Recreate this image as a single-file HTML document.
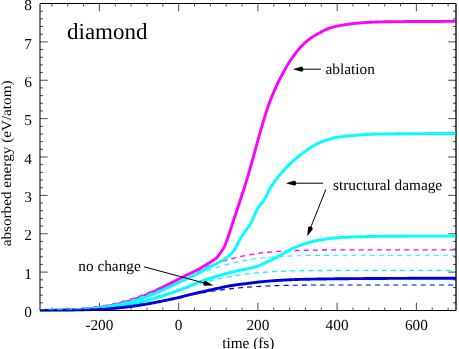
<!DOCTYPE html>
<html><head><meta charset="utf-8"><title>diamond</title>
<style>html,body{margin:0;padding:0;background:#fff;}body{width:459px;height:349px;overflow:hidden;position:relative;font-family:"Liberation Serif",serif;}</style></head>
<body>
<svg width="459" height="349" viewBox="0 0 459 349" style="position:absolute;left:0;top:0">
<rect width="100%" height="100%" fill="#fff"/>
<clipPath id="c"><rect x="40.0" y="3.5" width="416.0" height="307.9"/></clipPath>
<path d="M40.0 3.5 H456.0 V310.5 H40.0 Z" fill="none" stroke="#000" stroke-width="1"/>
<path d="M40.0 310.50 h7.8 M456.0 310.50 h-7.8 M40.0 302.82 h3.0 M456.0 302.82 h-3.0 M40.0 295.15 h3.0 M456.0 295.15 h-3.0 M40.0 287.48 h3.0 M456.0 287.48 h-3.0 M40.0 279.80 h3.0 M456.0 279.80 h-3.0 M40.0 272.12 h7.8 M456.0 272.12 h-7.8 M40.0 264.45 h3.0 M456.0 264.45 h-3.0 M40.0 256.77 h3.0 M456.0 256.77 h-3.0 M40.0 249.10 h3.0 M456.0 249.10 h-3.0 M40.0 241.43 h3.0 M456.0 241.43 h-3.0 M40.0 233.75 h7.8 M456.0 233.75 h-7.8 M40.0 226.07 h3.0 M456.0 226.07 h-3.0 M40.0 218.40 h3.0 M456.0 218.40 h-3.0 M40.0 210.72 h3.0 M456.0 210.72 h-3.0 M40.0 203.05 h3.0 M456.0 203.05 h-3.0 M40.0 195.38 h7.8 M456.0 195.38 h-7.8 M40.0 187.70 h3.0 M456.0 187.70 h-3.0 M40.0 180.02 h3.0 M456.0 180.02 h-3.0 M40.0 172.35 h3.0 M456.0 172.35 h-3.0 M40.0 164.67 h3.0 M456.0 164.67 h-3.0 M40.0 157.00 h7.8 M456.0 157.00 h-7.8 M40.0 149.32 h3.0 M456.0 149.32 h-3.0 M40.0 141.65 h3.0 M456.0 141.65 h-3.0 M40.0 133.97 h3.0 M456.0 133.97 h-3.0 M40.0 126.30 h3.0 M456.0 126.30 h-3.0 M40.0 118.62 h7.8 M456.0 118.62 h-7.8 M40.0 110.95 h3.0 M456.0 110.95 h-3.0 M40.0 103.27 h3.0 M456.0 103.27 h-3.0 M40.0 95.60 h3.0 M456.0 95.60 h-3.0 M40.0 87.92 h3.0 M456.0 87.92 h-3.0 M40.0 80.25 h7.8 M456.0 80.25 h-7.8 M40.0 72.57 h3.0 M456.0 72.57 h-3.0 M40.0 64.90 h3.0 M456.0 64.90 h-3.0 M40.0 57.22 h3.0 M456.0 57.22 h-3.0 M40.0 49.55 h3.0 M456.0 49.55 h-3.0 M40.0 41.88 h7.8 M456.0 41.88 h-7.8 M40.0 34.20 h3.0 M456.0 34.20 h-3.0 M40.0 26.52 h3.0 M456.0 26.52 h-3.0 M40.0 18.85 h3.0 M456.0 18.85 h-3.0 M40.0 11.17 h3.0 M456.0 11.17 h-3.0 M40.0 3.50 h7.8 M456.0 3.50 h-7.8 M51.89 310.5 v-3.0 M51.89 3.5 v3.0 M67.73 310.5 v-3.0 M67.73 3.5 v3.0 M83.58 310.5 v-3.0 M83.58 3.5 v3.0 M99.43 310.5 v-7.8 M99.43 3.5 v7.8 M115.28 310.5 v-3.0 M115.28 3.5 v3.0 M131.12 310.5 v-3.0 M131.12 3.5 v3.0 M146.97 310.5 v-3.0 M146.97 3.5 v3.0 M162.82 310.5 v-3.0 M162.82 3.5 v3.0 M178.67 310.5 v-7.8 M178.67 3.5 v7.8 M194.51 310.5 v-3.0 M194.51 3.5 v3.0 M210.36 310.5 v-3.0 M210.36 3.5 v3.0 M226.21 310.5 v-3.0 M226.21 3.5 v3.0 M242.06 310.5 v-3.0 M242.06 3.5 v3.0 M257.90 310.5 v-7.8 M257.90 3.5 v7.8 M273.75 310.5 v-3.0 M273.75 3.5 v3.0 M289.60 310.5 v-3.0 M289.60 3.5 v3.0 M305.45 310.5 v-3.0 M305.45 3.5 v3.0 M321.30 310.5 v-3.0 M321.30 3.5 v3.0 M337.14 310.5 v-7.8 M337.14 3.5 v7.8 M352.99 310.5 v-3.0 M352.99 3.5 v3.0 M368.84 310.5 v-3.0 M368.84 3.5 v3.0 M384.69 310.5 v-3.0 M384.69 3.5 v3.0 M400.53 310.5 v-3.0 M400.53 3.5 v3.0 M416.38 310.5 v-7.8 M416.38 3.5 v7.8 M432.23 310.5 v-3.0 M432.23 3.5 v3.0 M448.08 310.5 v-3.0 M448.08 3.5 v3.0" fill="none" stroke="#000" stroke-width="0.7"/>
<g clip-path="url(#c)" fill="none" stroke-linejoin="round">
<path d="M40.00 310.40 L41.00 310.39 L42.00 310.38 L43.00 310.37 L44.00 310.36 L45.00 310.35 L46.00 310.34 L47.00 310.33 L48.00 310.32 L49.00 310.31 L50.00 310.30 L51.00 310.28 L52.00 310.27 L53.00 310.25 L54.00 310.24 L55.00 310.22 L56.00 310.20 L57.00 310.18 L58.00 310.16 L59.00 310.14 L60.00 310.12 L61.00 310.10 L62.00 310.07 L63.00 310.04 L64.00 310.02 L65.00 309.99 L66.00 309.96 L67.00 309.93 L68.00 309.89 L69.00 309.86 L70.00 309.82 L71.00 309.78 L72.00 309.74 L73.00 309.69 L74.00 309.65 L75.00 309.60 L76.00 309.55 L77.00 309.50 L78.00 309.45 L79.00 309.39 L80.00 309.33 L81.00 309.27 L82.00 309.20 L83.00 309.13 L84.00 309.06 L85.00 308.99 L86.00 308.91 L87.00 308.83 L88.00 308.75 L89.00 308.66 L90.00 308.57 L91.00 308.47 L92.00 308.38 L93.00 308.27 L94.00 308.17 L95.00 308.06 L96.00 307.94 L97.00 307.82 L98.00 307.70 L99.00 307.57 L100.00 307.44 L101.00 307.30 L102.00 307.16 L103.00 307.01 L104.00 306.86 L105.00 306.70 L106.00 306.54 L107.00 306.38 L108.00 306.20 L109.00 306.02 L110.00 305.84 L111.00 305.65 L112.00 305.45 L113.00 305.25 L114.00 305.04 L115.00 304.83 L116.00 304.61 L117.00 304.38 L118.00 304.15 L119.00 303.91 L120.00 303.67 L121.00 303.42 L122.00 303.16 L123.00 302.90 L124.00 302.62 L125.00 302.35 L126.00 302.06 L127.00 301.77 L128.00 301.47 L129.00 301.17 L130.00 300.86 L131.00 300.54 L132.00 300.22 L133.00 299.89 L134.00 299.55 L135.00 299.20 L136.00 298.85 L137.00 298.50 L138.00 298.13 L139.00 297.76 L140.00 297.38 L141.00 297.00 L142.00 296.61 L143.00 296.22 L144.00 295.81 L145.00 295.40 L146.00 294.99 L147.00 294.57 L148.00 294.14 L149.00 293.71 L150.00 293.28 L151.00 292.83 L152.00 292.39 L153.00 291.93 L154.00 291.48 L155.00 291.01 L156.00 290.55 L157.00 290.08 L158.00 289.60 L159.00 289.12 L160.00 288.64 L161.00 288.15 L162.00 287.66 L163.00 287.16 L164.00 286.67 L165.00 286.17 L166.00 285.67 L167.00 285.16 L168.00 284.65 L169.00 284.14 L170.00 283.63 L171.00 283.12 L172.00 282.60 L173.00 282.09 L174.00 281.57 L175.00 281.06 L176.00 280.54 L177.00 280.02 L178.00 279.50 L179.00 278.99 L180.00 278.47 L181.00 277.96 L182.00 277.44 L183.00 276.93 L184.00 276.41 L185.00 275.90 L186.00 275.40 L187.00 274.91 L188.00 274.42 L189.00 273.93 L190.00 273.45 L191.00 272.97 L192.00 272.48 L193.00 272.00 L194.00 271.51 L195.00 271.01 L196.00 270.51 L197.00 270.00 L198.00 269.48 L199.00 268.95 L200.00 268.40 L201.00 267.83 L202.00 267.24 L203.00 266.63 L204.00 266.01 L205.00 265.38 L206.00 264.77 L207.00 264.16 L208.00 263.57 L209.00 263.00 L210.00 262.42 L211.00 261.82 L212.00 261.20 L213.00 260.54 L214.00 259.84 L215.00 259.11 L216.00 258.31 L217.00 257.40 L218.00 256.31 L219.00 254.99 L220.00 253.54 L221.00 252.05 L222.00 250.58 L223.00 249.07 L224.00 247.37 L225.00 245.29 L226.00 242.74 L227.00 240.00 L228.00 237.20 L229.00 234.26 L230.00 231.23 L231.00 228.15 L232.00 225.06 L233.00 222.00 L234.00 218.98 L235.00 215.98 L236.00 212.98 L237.00 209.99 L238.00 207.01 L239.00 204.01 L240.00 201.00 L241.00 197.98 L242.00 194.93 L243.00 191.85 L244.00 188.74 L245.00 185.59 L246.00 182.39 L247.00 179.14 L248.00 175.84 L249.00 172.44 L250.00 168.96 L251.00 165.41 L252.00 161.82 L253.00 158.18 L254.00 154.52 L255.00 150.86 L256.00 147.19 L257.00 143.55 L258.00 139.94 L259.00 136.38 L260.00 132.88 L261.00 129.43 L262.00 125.97 L263.00 122.51 L264.00 119.11 L265.00 115.80 L266.00 112.62 L267.00 109.62 L268.00 106.76 L269.00 104.01 L270.00 101.36 L271.00 98.80 L272.00 96.30 L273.00 93.86 L274.00 91.48 L275.00 89.16 L276.00 86.90 L277.00 84.72 L278.00 82.61 L279.00 80.59 L280.00 78.65 L281.00 76.78 L282.00 74.95 L283.00 73.14 L284.00 71.33 L285.00 69.49 L286.00 67.65 L287.00 65.88 L288.00 64.21 L289.00 62.61 L290.00 61.06 L291.00 59.56 L292.00 58.12 L293.00 56.73 L294.00 55.36 L295.00 54.02 L296.00 52.71 L297.00 51.43 L298.00 50.18 L299.00 48.98 L300.00 47.83 L301.00 46.73 L302.00 45.69 L303.00 44.69 L304.00 43.72 L305.00 42.78 L306.00 41.88 L307.00 41.01 L308.00 40.18 L309.00 39.38 L310.00 38.63 L311.00 37.92 L312.00 37.25 L313.00 36.61 L314.00 36.00 L315.00 35.42 L316.00 34.85 L317.00 34.30 L318.00 33.75 L319.00 33.22 L320.00 32.68 L321.00 32.13 L322.00 31.58 L323.00 31.05 L324.00 30.52 L325.00 30.02 L326.00 29.55 L327.00 29.11 L328.00 28.71 L329.00 28.35 L330.00 28.02 L331.00 27.70 L332.00 27.40 L333.00 27.12 L334.00 26.85 L335.00 26.60 L336.00 26.36 L337.00 26.14 L338.00 25.94 L339.00 25.74 L340.00 25.56 L341.00 25.39 L342.00 25.23 L343.00 25.07 L344.00 24.92 L345.00 24.76 L346.00 24.61 L347.00 24.46 L348.00 24.31 L349.00 24.17 L350.00 24.02 L351.00 23.88 L352.00 23.75 L353.00 23.62 L354.00 23.50 L355.00 23.40 L356.00 23.30 L357.00 23.21 L358.00 23.12 L359.00 23.03 L360.00 22.95 L361.00 22.86 L362.00 22.79 L363.00 22.71 L364.00 22.64 L365.00 22.57 L366.00 22.51 L367.00 22.45 L368.00 22.40 L369.00 22.35 L370.00 22.30 L371.00 22.26 L372.00 22.21 L373.00 22.17 L374.00 22.13 L375.00 22.09 L376.00 22.06 L377.00 22.02 L378.00 21.99 L379.00 21.95 L380.00 21.92 L381.00 21.89 L382.00 21.86 L383.00 21.83 L384.00 21.81 L385.00 21.79 L386.00 21.76 L387.00 21.74 L388.00 21.73 L389.00 21.71 L390.00 21.70 L391.00 21.69 L392.00 21.68 L393.00 21.67 L394.00 21.66 L395.00 21.65 L396.00 21.64 L397.00 21.63 L398.00 21.62 L399.00 21.61 L400.00 21.61 L401.00 21.60 L402.00 21.59 L403.00 21.59 L404.00 21.58 L405.00 21.57 L406.00 21.57 L407.00 21.56 L408.00 21.55 L409.00 21.55 L410.00 21.54 L411.00 21.54 L412.00 21.53 L413.00 21.53 L414.00 21.53 L415.00 21.52 L416.00 21.52 L417.00 21.51 L418.00 21.51 L419.00 21.50 L420.00 21.50 L421.00 21.50 L422.00 21.49 L423.00 21.49 L424.00 21.48 L425.00 21.48 L426.00 21.48 L427.00 21.47 L428.00 21.47 L429.00 21.47 L430.00 21.46 L431.00 21.46 L432.00 21.45 L433.00 21.45 L434.00 21.45 L435.00 21.44 L436.00 21.44 L437.00 21.44 L438.00 21.44 L439.00 21.43 L440.00 21.43 L441.00 21.43 L442.00 21.42 L443.00 21.42 L444.00 21.42 L445.00 21.42 L446.00 21.41 L447.00 21.41 L448.00 21.41 L449.00 21.41 L450.00 21.41 L451.00 21.41 L452.00 21.40 L453.00 21.40 L454.00 21.40 L455.00 21.40 L456.00 21.40" stroke="#ff00ff" stroke-width="2.9" />
<path d="M40.00 310.25 L42.00 310.22 L44.00 310.18 L46.00 310.14 L48.00 310.10 L50.00 310.06 L52.00 310.01 L54.00 309.96 L56.00 309.90 L58.00 309.83 L60.00 309.76 L62.00 309.68 L64.00 309.60 L66.00 309.51 L68.00 309.41 L70.00 309.30 L72.00 309.18 L74.00 309.06 L76.00 308.92 L78.00 308.77 L80.00 308.62 L82.00 308.45 L84.00 308.26 L86.00 308.07 L88.00 307.86 L90.00 307.64 L92.00 307.40 L94.00 307.15 L96.00 306.88 L98.00 306.59 L100.00 306.29 L102.00 305.97 L104.00 305.63 L106.00 305.27 L108.00 304.89 L110.00 304.50 L112.00 304.08 L114.00 303.64 L116.00 303.18 L118.00 302.70 L120.00 302.20 L122.00 301.68 L124.00 301.13 L126.00 300.57 L128.00 299.98 L130.00 299.37 L132.00 298.74 L134.00 298.08 L136.00 297.41 L138.00 296.72 L140.00 296.00 L142.00 295.27 L144.00 294.51 L146.00 293.74 L148.00 292.95 L150.00 292.14 L152.00 291.32 L154.00 290.48 L156.00 289.63 L158.00 288.76 L160.00 287.88 L162.00 286.99 L164.00 286.09 L166.00 285.18 L168.00 284.27 L170.00 283.35 L172.00 282.42 L174.00 281.49 L176.00 280.56 L178.00 279.63 L180.00 278.70 L182.00 277.77 L184.00 276.84 L186.00 275.92 L188.00 275.01 L190.00 274.10 L192.00 273.20 L194.00 272.31 L196.00 271.44 L198.00 270.57 L200.00 269.72 L202.00 268.89 L204.00 268.07 L206.00 267.26 L208.00 266.47 L210.00 265.71 L212.00 264.96 L214.00 264.22 L216.00 263.51 L218.00 262.82 L220.00 262.15 L222.00 261.50 L224.00 260.88 L226.00 260.27 L228.00 259.69 L230.00 259.13 L232.00 258.59 L234.00 258.07 L236.00 257.57 L238.00 257.09 L240.00 256.64 L242.00 256.21 L244.00 255.79 L246.00 255.40 L248.00 255.03 L250.00 254.67 L252.00 254.34 L254.00 254.02 L256.00 253.72 L258.00 253.44 L260.00 253.17 L262.00 252.92 L264.00 252.69 L266.00 252.47 L268.00 252.26 L270.00 252.07 L272.00 251.89 L274.00 251.72 L276.00 251.56 L278.00 251.42 L280.00 251.29 L282.00 251.16 L284.00 251.05 L286.00 250.94 L288.00 250.84 L290.00 250.75 L292.00 250.67 L294.00 250.59 L296.00 250.52 L298.00 250.46 L300.00 250.40 L302.00 250.35 L304.00 250.30 L306.00 250.26 L308.00 250.22 L310.00 250.18 L312.00 250.15 L314.00 250.12 L316.00 250.09 L318.00 250.07 L320.00 250.04 L322.00 250.02 L324.00 250.01 L326.00 249.99 L328.00 249.98 L330.00 249.96 L332.00 249.95 L334.00 249.94 L336.00 249.93 L338.00 249.93 L340.00 249.92 L342.00 249.91 L344.00 249.91 L346.00 249.90 L348.00 249.90 L350.00 249.89 L352.00 249.89 L354.00 249.89 L356.00 249.88 L358.00 249.88 L360.00 249.88 L362.00 249.88 L364.00 249.88 L366.00 249.88 L368.00 249.87 L370.00 249.87 L372.00 249.87 L374.00 249.87 L376.00 249.87 L378.00 249.87 L380.00 249.87 L382.00 249.87 L384.00 249.87 L386.00 249.87 L388.00 249.87 L390.00 249.87 L392.00 249.87 L394.00 249.87 L396.00 249.87 L398.00 249.87 L400.00 249.87 L402.00 249.87 L404.00 249.87 L406.00 249.87 L408.00 249.87 L410.00 249.87 L412.00 249.87 L414.00 249.87 L416.00 249.87 L418.00 249.87 L420.00 249.87 L422.00 249.87 L424.00 249.87 L426.00 249.87 L428.00 249.87 L430.00 249.87 L432.00 249.87 L434.00 249.87 L436.00 249.87 L438.00 249.87 L440.00 249.87 L442.00 249.87 L444.00 249.87 L446.00 249.87 L448.00 249.87 L450.00 249.87 L452.00 249.87 L454.00 249.87 L456.00 249.87" stroke="#ff00ff" stroke-width="1.3" stroke-dasharray="5 4.14" stroke-dashoffset="0.8"/>
<path d="M40.00 310.41 L41.00 310.41 L42.00 310.40 L43.00 310.39 L44.00 310.39 L45.00 310.38 L46.00 310.37 L47.00 310.36 L48.00 310.35 L49.00 310.34 L50.00 310.33 L51.00 310.32 L52.00 310.31 L53.00 310.29 L54.00 310.28 L55.00 310.27 L56.00 310.25 L57.00 310.23 L58.00 310.22 L59.00 310.20 L60.00 310.18 L61.00 310.16 L62.00 310.14 L63.00 310.12 L64.00 310.09 L65.00 310.07 L66.00 310.04 L67.00 310.02 L68.00 309.99 L69.00 309.96 L70.00 309.93 L71.00 309.89 L72.00 309.86 L73.00 309.82 L74.00 309.78 L75.00 309.74 L76.00 309.70 L77.00 309.65 L78.00 309.61 L79.00 309.56 L80.00 309.51 L81.00 309.45 L82.00 309.40 L83.00 309.34 L84.00 309.28 L85.00 309.22 L86.00 309.15 L87.00 309.08 L88.00 309.01 L89.00 308.93 L90.00 308.85 L91.00 308.77 L92.00 308.69 L93.00 308.60 L94.00 308.51 L95.00 308.41 L96.00 308.31 L97.00 308.21 L98.00 308.10 L99.00 307.99 L100.00 307.88 L101.00 307.76 L102.00 307.64 L103.00 307.51 L104.00 307.37 L105.00 307.24 L106.00 307.10 L107.00 306.95 L108.00 306.80 L109.00 306.64 L110.00 306.48 L111.00 306.32 L112.00 306.15 L113.00 305.97 L114.00 305.79 L115.00 305.60 L116.00 305.41 L117.00 305.21 L118.00 305.01 L119.00 304.80 L120.00 304.58 L121.00 304.36 L122.00 304.13 L123.00 303.90 L124.00 303.66 L125.00 303.42 L126.00 303.17 L127.00 302.91 L128.00 302.65 L129.00 302.38 L130.00 302.11 L131.00 301.82 L132.00 301.54 L133.00 301.24 L134.00 300.94 L135.00 300.64 L136.00 300.33 L137.00 300.01 L138.00 299.69 L139.00 299.36 L140.00 299.02 L141.00 298.68 L142.00 298.33 L143.00 297.98 L144.00 297.62 L145.00 297.26 L146.00 296.89 L147.00 296.51 L148.00 296.13 L149.00 295.74 L150.00 295.35 L151.00 294.96 L152.00 294.56 L153.00 294.15 L154.00 293.74 L155.00 293.32 L156.00 292.90 L157.00 292.48 L158.00 292.05 L159.00 291.62 L160.00 291.18 L161.00 290.75 L162.00 290.30 L163.00 289.86 L164.00 289.41 L165.00 288.95 L166.00 288.50 L167.00 288.04 L168.00 287.58 L169.00 287.12 L170.00 286.66 L171.00 286.19 L172.00 285.73 L173.00 285.26 L174.00 284.79 L175.00 284.32 L176.00 283.85 L177.00 283.38 L178.00 282.90 L179.00 282.43 L180.00 281.96 L181.00 281.49 L182.00 281.03 L183.00 280.56 L184.00 280.09 L185.00 279.62 L186.00 279.14 L187.00 278.67 L188.00 278.20 L189.00 277.73 L190.00 277.26 L191.00 276.79 L192.00 276.32 L193.00 275.84 L194.00 275.36 L195.00 274.87 L196.00 274.37 L197.00 273.87 L198.00 273.36 L199.00 272.83 L200.00 272.30 L201.00 271.74 L202.00 271.15 L203.00 270.54 L204.00 269.92 L205.00 269.31 L206.00 268.73 L207.00 268.19 L208.00 267.66 L209.00 267.16 L210.00 266.67 L211.00 266.18 L212.00 265.69 L213.00 265.20 L214.00 264.70 L215.00 264.22 L216.00 263.73 L217.00 263.24 L218.00 262.75 L219.00 262.23 L220.00 261.69 L221.00 261.14 L222.00 260.58 L223.00 260.00 L224.00 259.40 L225.00 258.76 L226.00 258.08 L227.00 257.36 L228.00 256.60 L229.00 255.78 L230.00 254.89 L231.00 253.93 L232.00 252.87 L233.00 251.67 L234.00 250.32 L235.00 248.85 L236.00 247.22 L237.00 245.28 L238.00 243.18 L239.00 241.12 L240.00 239.31 L241.00 237.65 L242.00 236.10 L243.00 234.61 L244.00 233.18 L245.00 231.78 L246.00 230.38 L247.00 228.97 L248.00 227.52 L249.00 226.01 L250.00 224.42 L251.00 222.71 L252.00 220.85 L253.00 218.69 L254.00 216.36 L255.00 213.98 L256.00 211.67 L257.00 209.57 L258.00 207.80 L259.00 206.38 L260.00 205.17 L261.00 204.06 L262.00 202.91 L263.00 201.63 L264.00 200.10 L265.00 198.34 L266.00 196.42 L267.00 194.40 L268.00 192.35 L269.00 190.34 L270.00 188.44 L271.00 186.72 L272.00 185.18 L273.00 183.71 L274.00 182.30 L275.00 180.95 L276.00 179.65 L277.00 178.38 L278.00 177.15 L279.00 175.94 L280.00 174.75 L281.00 173.57 L282.00 172.41 L283.00 171.27 L284.00 170.15 L285.00 169.04 L286.00 167.96 L287.00 166.90 L288.00 165.87 L289.00 164.86 L290.00 163.87 L291.00 162.91 L292.00 161.97 L293.00 161.07 L294.00 160.19 L295.00 159.33 L296.00 158.49 L297.00 157.67 L298.00 156.86 L299.00 156.08 L300.00 155.30 L301.00 154.54 L302.00 153.79 L303.00 153.04 L304.00 152.30 L305.00 151.57 L306.00 150.83 L307.00 150.09 L308.00 149.35 L309.00 148.62 L310.00 147.91 L311.00 147.24 L312.00 146.60 L313.00 146.01 L314.00 145.47 L315.00 144.94 L316.00 144.42 L317.00 143.92 L318.00 143.44 L319.00 142.97 L320.00 142.52 L321.00 142.09 L322.00 141.68 L323.00 141.29 L324.00 140.91 L325.00 140.56 L326.00 140.23 L327.00 139.91 L328.00 139.61 L329.00 139.31 L330.00 139.03 L331.00 138.75 L332.00 138.48 L333.00 138.23 L334.00 137.99 L335.00 137.76 L336.00 137.54 L337.00 137.34 L338.00 137.16 L339.00 136.99 L340.00 136.84 L341.00 136.70 L342.00 136.57 L343.00 136.45 L344.00 136.33 L345.00 136.22 L346.00 136.12 L347.00 136.02 L348.00 135.93 L349.00 135.83 L350.00 135.74 L351.00 135.66 L352.00 135.57 L353.00 135.48 L354.00 135.40 L355.00 135.31 L356.00 135.23 L357.00 135.14 L358.00 135.06 L359.00 134.98 L360.00 134.91 L361.00 134.84 L362.00 134.77 L363.00 134.71 L364.00 134.65 L365.00 134.60 L366.00 134.55 L367.00 134.51 L368.00 134.46 L369.00 134.42 L370.00 134.38 L371.00 134.34 L372.00 134.30 L373.00 134.26 L374.00 134.23 L375.00 134.20 L376.00 134.17 L377.00 134.14 L378.00 134.12 L379.00 134.10 L380.00 134.08 L381.00 134.06 L382.00 134.04 L383.00 134.02 L384.00 134.01 L385.00 133.99 L386.00 133.97 L387.00 133.95 L388.00 133.94 L389.00 133.92 L390.00 133.90 L391.00 133.89 L392.00 133.87 L393.00 133.86 L394.00 133.84 L395.00 133.83 L396.00 133.82 L397.00 133.80 L398.00 133.79 L399.00 133.78 L400.00 133.77 L401.00 133.75 L402.00 133.74 L403.00 133.73 L404.00 133.72 L405.00 133.71 L406.00 133.70 L407.00 133.69 L408.00 133.68 L409.00 133.67 L410.00 133.66 L411.00 133.66 L412.00 133.65 L413.00 133.64 L414.00 133.63 L415.00 133.63 L416.00 133.62 L417.00 133.62 L418.00 133.61 L419.00 133.60 L420.00 133.60 L421.00 133.60 L422.00 133.59 L423.00 133.59 L424.00 133.58 L425.00 133.58 L426.00 133.57 L427.00 133.57 L428.00 133.57 L429.00 133.56 L430.00 133.56 L431.00 133.55 L432.00 133.55 L433.00 133.55 L434.00 133.54 L435.00 133.54 L436.00 133.54 L437.00 133.53 L438.00 133.53 L439.00 133.53 L440.00 133.52 L441.00 133.52 L442.00 133.52 L443.00 133.52 L444.00 133.51 L445.00 133.51 L446.00 133.51 L447.00 133.51 L448.00 133.51 L449.00 133.50 L450.00 133.50 L451.00 133.50 L452.00 133.50 L453.00 133.50 L454.00 133.50 L455.00 133.50 L456.00 133.50" stroke="#00ffff" stroke-width="2.9" />
<path d="M40.00 310.44 L41.00 310.44 L42.00 310.43 L43.00 310.43 L44.00 310.42 L45.00 310.42 L46.00 310.41 L47.00 310.41 L48.00 310.40 L49.00 310.39 L50.00 310.38 L51.00 310.38 L52.00 310.37 L53.00 310.36 L54.00 310.35 L55.00 310.34 L56.00 310.33 L57.00 310.32 L58.00 310.31 L59.00 310.29 L60.00 310.28 L61.00 310.27 L62.00 310.25 L63.00 310.24 L64.00 310.22 L65.00 310.20 L66.00 310.19 L67.00 310.17 L68.00 310.15 L69.00 310.13 L70.00 310.10 L71.00 310.08 L72.00 310.06 L73.00 310.03 L74.00 310.00 L75.00 309.98 L76.00 309.95 L77.00 309.92 L78.00 309.88 L79.00 309.85 L80.00 309.81 L81.00 309.78 L82.00 309.74 L83.00 309.70 L84.00 309.65 L85.00 309.61 L86.00 309.56 L87.00 309.51 L88.00 309.46 L89.00 309.41 L90.00 309.36 L91.00 309.30 L92.00 309.24 L93.00 309.18 L94.00 309.11 L95.00 309.05 L96.00 308.98 L97.00 308.90 L98.00 308.83 L99.00 308.75 L100.00 308.67 L101.00 308.59 L102.00 308.50 L103.00 308.41 L104.00 308.31 L105.00 308.22 L106.00 308.12 L107.00 308.02 L108.00 307.91 L109.00 307.80 L110.00 307.68 L111.00 307.57 L112.00 307.44 L113.00 307.32 L114.00 307.19 L115.00 307.06 L116.00 306.92 L117.00 306.78 L118.00 306.63 L119.00 306.48 L120.00 306.33 L121.00 306.17 L122.00 306.01 L123.00 305.85 L124.00 305.68 L125.00 305.50 L126.00 305.32 L127.00 305.14 L128.00 304.95 L129.00 304.76 L130.00 304.56 L131.00 304.36 L132.00 304.15 L133.00 303.94 L134.00 303.73 L135.00 303.51 L136.00 303.28 L137.00 303.06 L138.00 302.82 L139.00 302.59 L140.00 302.34 L141.00 302.10 L142.00 301.85 L143.00 301.59 L144.00 301.33 L145.00 301.07 L146.00 300.80 L147.00 300.53 L148.00 300.26 L149.00 299.98 L150.00 299.69 L151.00 299.41 L152.00 299.11 L153.00 298.82 L154.00 298.52 L155.00 298.22 L156.00 297.91 L157.00 297.61 L158.00 297.29 L159.00 296.98 L160.00 296.66 L161.00 296.34 L162.00 296.02 L163.00 295.69 L164.00 295.37 L165.00 295.04 L166.00 294.70 L167.00 294.37 L168.00 294.03 L169.00 293.69 L170.00 293.36 L171.00 293.02 L172.00 292.67 L173.00 292.33 L174.00 291.99 L175.00 291.64 L176.00 291.29 L177.00 290.94 L178.00 290.59 L179.00 290.24 L180.00 289.88 L181.00 289.52 L182.00 289.16 L183.00 288.78 L184.00 288.40 L185.00 288.01 L186.00 287.60 L187.00 287.18 L188.00 286.75 L189.00 286.32 L190.00 285.89 L191.00 285.46 L192.00 285.03 L193.00 284.61 L194.00 284.20 L195.00 283.79 L196.00 283.39 L197.00 282.98 L198.00 282.58 L199.00 282.18 L200.00 281.78 L201.00 281.40 L202.00 281.02 L203.00 280.65 L204.00 280.30 L205.00 279.96 L206.00 279.63 L207.00 279.31 L208.00 279.00 L209.00 278.70 L210.00 278.40 L211.00 278.10 L212.00 277.80 L213.00 277.50 L214.00 277.20 L215.00 276.89 L216.00 276.59 L217.00 276.28 L218.00 275.97 L219.00 275.67 L220.00 275.36 L221.00 275.07 L222.00 274.77 L223.00 274.48 L224.00 274.20 L225.00 273.92 L226.00 273.65 L227.00 273.38 L228.00 273.11 L229.00 272.84 L230.00 272.58 L231.00 272.33 L232.00 272.08 L233.00 271.84 L234.00 271.60 L235.00 271.37 L236.00 271.16 L237.00 270.95 L238.00 270.74 L239.00 270.54 L240.00 270.34 L241.00 270.14 L242.00 269.93 L243.00 269.72 L244.00 269.50 L245.00 269.28 L246.00 269.05 L247.00 268.82 L248.00 268.59 L249.00 268.35 L250.00 268.11 L251.00 267.86 L252.00 267.60 L253.00 267.34 L254.00 267.08 L255.00 266.82 L256.00 266.54 L257.00 266.25 L258.00 265.94 L259.00 265.60 L260.00 265.22 L261.00 264.79 L262.00 264.33 L263.00 263.85 L264.00 263.36 L265.00 262.86 L266.00 262.39 L267.00 261.93 L268.00 261.48 L269.00 261.04 L270.00 260.59 L271.00 260.14 L272.00 259.68 L273.00 259.20 L274.00 258.70 L275.00 258.19 L276.00 257.66 L277.00 257.13 L278.00 256.58 L279.00 256.03 L280.00 255.48 L281.00 254.90 L282.00 254.32 L283.00 253.72 L284.00 253.14 L285.00 252.56 L286.00 252.00 L287.00 251.45 L288.00 250.91 L289.00 250.38 L290.00 249.86 L291.00 249.35 L292.00 248.87 L293.00 248.41 L294.00 247.97 L295.00 247.53 L296.00 247.10 L297.00 246.68 L298.00 246.27 L299.00 245.87 L300.00 245.48 L301.00 245.10 L302.00 244.73 L303.00 244.38 L304.00 244.04 L305.00 243.71 L306.00 243.40 L307.00 243.10 L308.00 242.80 L309.00 242.52 L310.00 242.23 L311.00 241.96 L312.00 241.70 L313.00 241.44 L314.00 241.19 L315.00 240.96 L316.00 240.73 L317.00 240.52 L318.00 240.32 L319.00 240.14 L320.00 239.96 L321.00 239.79 L322.00 239.63 L323.00 239.47 L324.00 239.32 L325.00 239.18 L326.00 239.04 L327.00 238.91 L328.00 238.78 L329.00 238.66 L330.00 238.54 L331.00 238.43 L332.00 238.33 L333.00 238.23 L334.00 238.13 L335.00 238.04 L336.00 237.95 L337.00 237.86 L338.00 237.78 L339.00 237.70 L340.00 237.62 L341.00 237.55 L342.00 237.48 L343.00 237.42 L344.00 237.36 L345.00 237.30 L346.00 237.25 L347.00 237.20 L348.00 237.14 L349.00 237.10 L350.00 237.05 L351.00 237.00 L352.00 236.96 L353.00 236.92 L354.00 236.88 L355.00 236.84 L356.00 236.81 L357.00 236.78 L358.00 236.75 L359.00 236.72 L360.00 236.70 L361.00 236.68 L362.00 236.66 L363.00 236.64 L364.00 236.62 L365.00 236.60 L366.00 236.58 L367.00 236.56 L368.00 236.55 L369.00 236.53 L370.00 236.51 L371.00 236.49 L372.00 236.48 L373.00 236.46 L374.00 236.45 L375.00 236.43 L376.00 236.42 L377.00 236.40 L378.00 236.39 L379.00 236.38 L380.00 236.36 L381.00 236.35 L382.00 236.34 L383.00 236.33 L384.00 236.32 L385.00 236.30 L386.00 236.29 L387.00 236.28 L388.00 236.28 L389.00 236.27 L390.00 236.26 L391.00 236.25 L392.00 236.24 L393.00 236.24 L394.00 236.23 L395.00 236.22 L396.00 236.22 L397.00 236.21 L398.00 236.21 L399.00 236.20 L400.00 236.20 L401.00 236.20 L402.00 236.19 L403.00 236.19 L404.00 236.19 L405.00 236.18 L406.00 236.18 L407.00 236.18 L408.00 236.18 L409.00 236.17 L410.00 236.17 L411.00 236.17 L412.00 236.16 L413.00 236.16 L414.00 236.16 L415.00 236.16 L416.00 236.15 L417.00 236.15 L418.00 236.15 L419.00 236.15 L420.00 236.14 L421.00 236.14 L422.00 236.14 L423.00 236.14 L424.00 236.14 L425.00 236.13 L426.00 236.13 L427.00 236.13 L428.00 236.13 L429.00 236.13 L430.00 236.12 L431.00 236.12 L432.00 236.12 L433.00 236.12 L434.00 236.12 L435.00 236.12 L436.00 236.11 L437.00 236.11 L438.00 236.11 L439.00 236.11 L440.00 236.11 L441.00 236.11 L442.00 236.11 L443.00 236.11 L444.00 236.11 L445.00 236.10 L446.00 236.10 L447.00 236.10 L448.00 236.10 L449.00 236.10 L450.00 236.10 L451.00 236.10 L452.00 236.10 L453.00 236.10 L454.00 236.10 L455.00 236.10 L456.00 236.10" stroke="#00ffff" stroke-width="2.9" />
<path d="M40.00 310.46 L41.00 310.46 L42.00 310.45 L43.00 310.45 L44.00 310.45 L45.00 310.44 L46.00 310.44 L47.00 310.43 L48.00 310.43 L49.00 310.43 L50.00 310.42 L51.00 310.42 L52.00 310.41 L53.00 310.40 L54.00 310.40 L55.00 310.39 L56.00 310.38 L57.00 310.38 L58.00 310.37 L59.00 310.36 L60.00 310.35 L61.00 310.34 L62.00 310.33 L63.00 310.32 L64.00 310.31 L65.00 310.30 L66.00 310.29 L67.00 310.27 L68.00 310.26 L69.00 310.25 L70.00 310.23 L71.00 310.22 L72.00 310.20 L73.00 310.18 L74.00 310.16 L75.00 310.15 L76.00 310.13 L77.00 310.10 L78.00 310.08 L79.00 310.06 L80.00 310.04 L81.00 310.01 L82.00 309.99 L83.00 309.96 L84.00 309.93 L85.00 309.90 L86.00 309.87 L87.00 309.84 L88.00 309.80 L89.00 309.77 L90.00 309.73 L91.00 309.69 L92.00 309.65 L93.00 309.61 L94.00 309.57 L95.00 309.53 L96.00 309.48 L97.00 309.43 L98.00 309.38 L99.00 309.33 L100.00 309.28 L101.00 309.22 L102.00 309.16 L103.00 309.10 L104.00 309.04 L105.00 308.98 L106.00 308.91 L107.00 308.84 L108.00 308.77 L109.00 308.70 L110.00 308.63 L111.00 308.55 L112.00 308.47 L113.00 308.39 L114.00 308.30 L115.00 308.22 L116.00 308.13 L117.00 308.04 L118.00 307.94 L119.00 307.84 L120.00 307.74 L121.00 307.64 L122.00 307.54 L123.00 307.43 L124.00 307.32 L125.00 307.20 L126.00 307.09 L127.00 306.97 L128.00 306.84 L129.00 306.72 L130.00 306.59 L131.00 306.46 L132.00 306.33 L133.00 306.19 L134.00 306.05 L135.00 305.91 L136.00 305.77 L137.00 305.62 L138.00 305.47 L139.00 305.32 L140.00 305.16 L141.00 305.00 L142.00 304.84 L143.00 304.68 L144.00 304.51 L145.00 304.34 L146.00 304.17 L147.00 304.00 L148.00 303.82 L149.00 303.64 L150.00 303.46 L151.00 303.28 L152.00 303.09 L153.00 302.90 L154.00 302.71 L155.00 302.52 L156.00 302.32 L157.00 302.13 L158.00 301.93 L159.00 301.73 L160.00 301.53 L161.00 301.32 L162.00 301.12 L163.00 300.91 L164.00 300.70 L165.00 300.49 L166.00 300.28 L167.00 300.07 L168.00 299.86 L169.00 299.64 L170.00 299.43 L171.00 299.22 L172.00 299.00 L173.00 298.78 L174.00 298.56 L175.00 298.35 L176.00 298.13 L177.00 297.92 L178.00 297.71 L179.00 297.49 L180.00 297.26 L181.00 297.01 L182.00 296.76 L183.00 296.49 L184.00 296.22 L185.00 295.94 L186.00 295.66 L187.00 295.39 L188.00 295.12 L189.00 294.85 L190.00 294.60 L191.00 294.35 L192.00 294.11 L193.00 293.87 L194.00 293.64 L195.00 293.41 L196.00 293.18 L197.00 292.95 L198.00 292.72 L199.00 292.50 L200.00 292.27 L201.00 292.05 L202.00 291.82 L203.00 291.60 L204.00 291.37 L205.00 291.15 L206.00 290.93 L207.00 290.70 L208.00 290.48 L209.00 290.26 L210.00 290.04 L211.00 289.82 L212.00 289.60 L213.00 289.38 L214.00 289.16 L215.00 288.95 L216.00 288.73 L217.00 288.51 L218.00 288.30 L219.00 288.08 L220.00 287.86 L221.00 287.64 L222.00 287.42 L223.00 287.20 L224.00 286.98 L225.00 286.76 L226.00 286.55 L227.00 286.35 L228.00 286.16 L229.00 285.97 L230.00 285.80 L231.00 285.64 L232.00 285.48 L233.00 285.33 L234.00 285.19 L235.00 285.05 L236.00 284.91 L237.00 284.78 L238.00 284.65 L239.00 284.52 L240.00 284.39 L241.00 284.26 L242.00 284.13 L243.00 284.00 L244.00 283.87 L245.00 283.74 L246.00 283.61 L247.00 283.48 L248.00 283.35 L249.00 283.22 L250.00 283.10 L251.00 282.97 L252.00 282.85 L253.00 282.72 L254.00 282.59 L255.00 282.47 L256.00 282.34 L257.00 282.23 L258.00 282.11 L259.00 282.00 L260.00 281.90 L261.00 281.80 L262.00 281.71 L263.00 281.61 L264.00 281.52 L265.00 281.43 L266.00 281.34 L267.00 281.25 L268.00 281.16 L269.00 281.08 L270.00 281.00 L271.00 280.92 L272.00 280.84 L273.00 280.76 L274.00 280.69 L275.00 280.62 L276.00 280.55 L277.00 280.48 L278.00 280.42 L279.00 280.36 L280.00 280.30 L281.00 280.24 L282.00 280.19 L283.00 280.13 L284.00 280.07 L285.00 280.02 L286.00 279.96 L287.00 279.91 L288.00 279.86 L289.00 279.81 L290.00 279.76 L291.00 279.72 L292.00 279.67 L293.00 279.63 L294.00 279.59 L295.00 279.55 L296.00 279.51 L297.00 279.48 L298.00 279.45 L299.00 279.42 L300.00 279.40 L301.00 279.38 L302.00 279.36 L303.00 279.33 L304.00 279.31 L305.00 279.29 L306.00 279.27 L307.00 279.25 L308.00 279.23 L309.00 279.21 L310.00 279.19 L311.00 279.17 L312.00 279.16 L313.00 279.14 L314.00 279.12 L315.00 279.10 L316.00 279.09 L317.00 279.07 L318.00 279.05 L319.00 279.04 L320.00 279.02 L321.00 279.01 L322.00 278.99 L323.00 278.98 L324.00 278.96 L325.00 278.95 L326.00 278.93 L327.00 278.92 L328.00 278.91 L329.00 278.89 L330.00 278.88 L331.00 278.87 L332.00 278.86 L333.00 278.84 L334.00 278.83 L335.00 278.82 L336.00 278.81 L337.00 278.80 L338.00 278.79 L339.00 278.78 L340.00 278.77 L341.00 278.76 L342.00 278.75 L343.00 278.74 L344.00 278.73 L345.00 278.72 L346.00 278.71 L347.00 278.70 L348.00 278.69 L349.00 278.68 L350.00 278.67 L351.00 278.67 L352.00 278.66 L353.00 278.65 L354.00 278.64 L355.00 278.63 L356.00 278.63 L357.00 278.62 L358.00 278.61 L359.00 278.61 L360.00 278.60 L361.00 278.59 L362.00 278.59 L363.00 278.58 L364.00 278.57 L365.00 278.57 L366.00 278.56 L367.00 278.55 L368.00 278.55 L369.00 278.54 L370.00 278.53 L371.00 278.53 L372.00 278.52 L373.00 278.52 L374.00 278.51 L375.00 278.50 L376.00 278.50 L377.00 278.49 L378.00 278.48 L379.00 278.48 L380.00 278.47 L381.00 278.47 L382.00 278.46 L383.00 278.45 L384.00 278.45 L385.00 278.44 L386.00 278.44 L387.00 278.43 L388.00 278.42 L389.00 278.42 L390.00 278.41 L391.00 278.41 L392.00 278.40 L393.00 278.40 L394.00 278.39 L395.00 278.39 L396.00 278.38 L397.00 278.38 L398.00 278.37 L399.00 278.36 L400.00 278.36 L401.00 278.35 L402.00 278.35 L403.00 278.34 L404.00 278.34 L405.00 278.33 L406.00 278.33 L407.00 278.33 L408.00 278.32 L409.00 278.32 L410.00 278.31 L411.00 278.31 L412.00 278.30 L413.00 278.30 L414.00 278.29 L415.00 278.29 L416.00 278.29 L417.00 278.28 L418.00 278.28 L419.00 278.27 L420.00 278.27 L421.00 278.27 L422.00 278.26 L423.00 278.26 L424.00 278.26 L425.00 278.25 L426.00 278.25 L427.00 278.25 L428.00 278.24 L429.00 278.24 L430.00 278.24 L431.00 278.24 L432.00 278.23 L433.00 278.23 L434.00 278.23 L435.00 278.23 L436.00 278.22 L437.00 278.22 L438.00 278.22 L439.00 278.22 L440.00 278.21 L441.00 278.21 L442.00 278.21 L443.00 278.21 L444.00 278.21 L445.00 278.21 L446.00 278.21 L447.00 278.20 L448.00 278.20 L449.00 278.20 L450.00 278.20 L451.00 278.20 L452.00 278.20 L453.00 278.20 L454.00 278.20 L455.00 278.20 L456.00 278.20" stroke="#0000e6" stroke-width="2.9" />
<path d="M40.00 310.27 L42.00 310.24 L44.00 310.21 L46.00 310.18 L48.00 310.14 L50.00 310.10 L52.00 310.05 L54.00 310.00 L56.00 309.95 L58.00 309.89 L60.00 309.83 L62.00 309.75 L64.00 309.68 L66.00 309.59 L68.00 309.50 L70.00 309.41 L72.00 309.30 L74.00 309.18 L76.00 309.06 L78.00 308.93 L80.00 308.78 L82.00 308.63 L84.00 308.46 L86.00 308.28 L88.00 308.09 L90.00 307.89 L92.00 307.67 L94.00 307.44 L96.00 307.20 L98.00 306.94 L100.00 306.66 L102.00 306.37 L104.00 306.06 L106.00 305.73 L108.00 305.39 L110.00 305.03 L112.00 304.65 L114.00 304.25 L116.00 303.83 L118.00 303.39 L120.00 302.94 L122.00 302.46 L124.00 301.96 L126.00 301.45 L128.00 300.91 L130.00 300.36 L132.00 299.78 L134.00 299.18 L136.00 298.57 L138.00 297.94 L140.00 297.29 L142.00 296.62 L144.00 295.93 L146.00 295.23 L148.00 294.50 L150.00 293.77 L152.00 293.02 L154.00 292.25 L156.00 291.48 L158.00 290.69 L160.00 289.89 L162.00 289.07 L164.00 288.25 L166.00 287.43 L168.00 286.59 L170.00 285.75 L172.00 284.91 L174.00 284.06 L176.00 283.21 L178.00 282.36 L180.00 281.51 L182.00 280.67 L184.00 279.82 L186.00 278.98 L188.00 278.15 L190.00 277.32 L192.00 276.51 L194.00 275.70 L196.00 274.90 L198.00 274.11 L200.00 273.34 L202.00 272.57 L204.00 271.83 L206.00 271.09 L208.00 270.38 L210.00 269.67 L212.00 268.99 L214.00 268.33 L216.00 267.68 L218.00 267.05 L220.00 266.44 L222.00 265.85 L224.00 265.27 L226.00 264.72 L228.00 264.19 L230.00 263.68 L232.00 263.19 L234.00 262.71 L236.00 262.26 L238.00 261.83 L240.00 261.41 L242.00 261.02 L244.00 260.64 L246.00 260.28 L248.00 259.94 L250.00 259.62 L252.00 259.31 L254.00 259.02 L256.00 258.75 L258.00 258.49 L260.00 258.25 L262.00 258.02 L264.00 257.81 L266.00 257.61 L268.00 257.42 L270.00 257.24 L272.00 257.08 L274.00 256.93 L276.00 256.79 L278.00 256.65 L280.00 256.53 L282.00 256.42 L284.00 256.31 L286.00 256.22 L288.00 256.13 L290.00 256.05 L292.00 255.97 L294.00 255.90 L296.00 255.84 L298.00 255.78 L300.00 255.73 L302.00 255.68 L304.00 255.63 L306.00 255.59 L308.00 255.56 L310.00 255.52 L312.00 255.49 L314.00 255.47 L316.00 255.44 L318.00 255.42 L320.00 255.40 L322.00 255.38 L324.00 255.37 L326.00 255.35 L328.00 255.34 L330.00 255.33 L332.00 255.32 L334.00 255.31 L336.00 255.30 L338.00 255.29 L340.00 255.29 L342.00 255.28 L344.00 255.28 L346.00 255.27 L348.00 255.27 L350.00 255.26 L352.00 255.26 L354.00 255.26 L356.00 255.26 L358.00 255.25 L360.00 255.25 L362.00 255.25 L364.00 255.25 L366.00 255.25 L368.00 255.25 L370.00 255.25 L372.00 255.24 L374.00 255.24 L376.00 255.24 L378.00 255.24 L380.00 255.24 L382.00 255.24 L384.00 255.24 L386.00 255.24 L388.00 255.24 L390.00 255.24 L392.00 255.24 L394.00 255.24 L396.00 255.24 L398.00 255.24 L400.00 255.24 L402.00 255.24 L404.00 255.24 L406.00 255.24 L408.00 255.24 L410.00 255.24 L412.00 255.24 L414.00 255.24 L416.00 255.24 L418.00 255.24 L420.00 255.24 L422.00 255.24 L424.00 255.24 L426.00 255.24 L428.00 255.24 L430.00 255.24 L432.00 255.24 L434.00 255.24 L436.00 255.24 L438.00 255.24 L440.00 255.24 L442.00 255.24 L444.00 255.24 L446.00 255.24 L448.00 255.24 L450.00 255.24 L452.00 255.24 L454.00 255.24 L456.00 255.24" stroke="#00ffff" stroke-width="1.1" stroke-dasharray="5 4.14" stroke-dashoffset="0.3"/>
<path d="M40.00 310.33 L42.00 310.31 L44.00 310.29 L46.00 310.26 L48.00 310.24 L50.00 310.21 L52.00 310.18 L54.00 310.14 L56.00 310.10 L58.00 310.06 L60.00 310.01 L62.00 309.96 L64.00 309.90 L66.00 309.84 L68.00 309.78 L70.00 309.71 L72.00 309.63 L74.00 309.55 L76.00 309.46 L78.00 309.36 L80.00 309.25 L82.00 309.14 L84.00 309.02 L86.00 308.89 L88.00 308.75 L90.00 308.61 L92.00 308.45 L94.00 308.28 L96.00 308.10 L98.00 307.91 L100.00 307.71 L102.00 307.50 L104.00 307.28 L106.00 307.04 L108.00 306.79 L110.00 306.53 L112.00 306.25 L114.00 305.96 L116.00 305.66 L118.00 305.34 L120.00 305.01 L122.00 304.67 L124.00 304.31 L126.00 303.93 L128.00 303.54 L130.00 303.14 L132.00 302.72 L134.00 302.29 L136.00 301.84 L138.00 301.38 L140.00 300.91 L142.00 300.42 L144.00 299.93 L146.00 299.42 L148.00 298.89 L150.00 298.36 L152.00 297.81 L154.00 297.26 L156.00 296.69 L158.00 296.12 L160.00 295.54 L162.00 294.95 L164.00 294.36 L166.00 293.76 L168.00 293.15 L170.00 292.54 L172.00 291.93 L174.00 291.31 L176.00 290.70 L178.00 290.08 L180.00 289.46 L182.00 288.85 L184.00 288.24 L186.00 287.63 L188.00 287.02 L190.00 286.43 L192.00 285.83 L194.00 285.24 L196.00 284.66 L198.00 284.09 L200.00 283.53 L202.00 282.98 L204.00 282.43 L206.00 281.90 L208.00 281.38 L210.00 280.87 L212.00 280.38 L214.00 279.89 L216.00 279.42 L218.00 278.97 L220.00 278.52 L222.00 278.09 L224.00 277.68 L226.00 277.28 L228.00 276.89 L230.00 276.52 L232.00 276.16 L234.00 275.82 L236.00 275.49 L238.00 275.18 L240.00 274.88 L242.00 274.59 L244.00 274.32 L246.00 274.06 L248.00 273.81 L250.00 273.58 L252.00 273.35 L254.00 273.14 L256.00 272.95 L258.00 272.76 L260.00 272.58 L262.00 272.42 L264.00 272.26 L266.00 272.12 L268.00 271.98 L270.00 271.85 L272.00 271.73 L274.00 271.62 L276.00 271.52 L278.00 271.42 L280.00 271.34 L282.00 271.25 L284.00 271.18 L286.00 271.11 L288.00 271.04 L290.00 270.98 L292.00 270.93 L294.00 270.88 L296.00 270.83 L298.00 270.79 L300.00 270.75 L302.00 270.72 L304.00 270.68 L306.00 270.65 L308.00 270.63 L310.00 270.60 L312.00 270.58 L314.00 270.56 L316.00 270.54 L318.00 270.53 L320.00 270.51 L322.00 270.50 L324.00 270.49 L326.00 270.48 L328.00 270.47 L330.00 270.46 L332.00 270.45 L334.00 270.45 L336.00 270.44 L338.00 270.44 L340.00 270.43 L342.00 270.43 L344.00 270.42 L346.00 270.42 L348.00 270.42 L350.00 270.42 L352.00 270.41 L354.00 270.41 L356.00 270.41 L358.00 270.41 L360.00 270.41 L362.00 270.41 L364.00 270.40 L366.00 270.40 L368.00 270.40 L370.00 270.40 L372.00 270.40 L374.00 270.40 L376.00 270.40 L378.00 270.40 L380.00 270.40 L382.00 270.40 L384.00 270.40 L386.00 270.40 L388.00 270.40 L390.00 270.40 L392.00 270.40 L394.00 270.40 L396.00 270.40 L398.00 270.40 L400.00 270.40 L402.00 270.40 L404.00 270.40 L406.00 270.40 L408.00 270.40 L410.00 270.40 L412.00 270.40 L414.00 270.40 L416.00 270.40 L418.00 270.40 L420.00 270.40 L422.00 270.40 L424.00 270.40 L426.00 270.40 L428.00 270.40 L430.00 270.40 L432.00 270.40 L434.00 270.40 L436.00 270.40 L438.00 270.40 L440.00 270.40 L442.00 270.40 L444.00 270.40 L446.00 270.40 L448.00 270.40 L450.00 270.40 L452.00 270.40 L454.00 270.40 L456.00 270.40" stroke="#00ffff" stroke-width="1.3" stroke-dasharray="5 4.14" stroke-dashoffset="1.4"/>
<path d="M40.00 310.39 L42.00 310.38 L44.00 310.37 L46.00 310.35 L48.00 310.33 L50.00 310.31 L52.00 310.29 L54.00 310.27 L56.00 310.25 L58.00 310.22 L60.00 310.19 L62.00 310.16 L64.00 310.12 L66.00 310.08 L68.00 310.04 L70.00 309.99 L72.00 309.94 L74.00 309.89 L76.00 309.83 L78.00 309.77 L80.00 309.71 L82.00 309.63 L84.00 309.56 L86.00 309.48 L88.00 309.39 L90.00 309.29 L92.00 309.19 L94.00 309.09 L96.00 308.97 L98.00 308.85 L100.00 308.72 L102.00 308.59 L104.00 308.45 L106.00 308.30 L108.00 308.14 L110.00 307.97 L112.00 307.79 L114.00 307.61 L116.00 307.42 L118.00 307.21 L120.00 307.00 L122.00 306.78 L124.00 306.55 L126.00 306.31 L128.00 306.07 L130.00 305.81 L132.00 305.54 L134.00 305.27 L136.00 304.98 L138.00 304.69 L140.00 304.39 L142.00 304.08 L144.00 303.76 L146.00 303.44 L148.00 303.10 L150.00 302.76 L152.00 302.41 L154.00 302.06 L156.00 301.70 L158.00 301.34 L160.00 300.97 L162.00 300.59 L164.00 300.21 L166.00 299.83 L168.00 299.44 L170.00 299.05 L172.00 298.66 L174.00 298.27 L176.00 297.88 L178.00 297.49 L180.00 297.09 L182.00 296.70 L184.00 296.31 L186.00 295.92 L188.00 295.54 L190.00 295.16 L192.00 294.78 L194.00 294.40 L196.00 294.03 L198.00 293.67 L200.00 293.31 L202.00 292.96 L204.00 292.61 L206.00 292.27 L208.00 291.94 L210.00 291.62 L212.00 291.30 L214.00 290.99 L216.00 290.69 L218.00 290.40 L220.00 290.12 L222.00 289.85 L224.00 289.58 L226.00 289.33 L228.00 289.08 L230.00 288.84 L232.00 288.62 L234.00 288.40 L236.00 288.19 L238.00 287.99 L240.00 287.80 L242.00 287.61 L244.00 287.44 L246.00 287.27 L248.00 287.12 L250.00 286.97 L252.00 286.83 L254.00 286.69 L256.00 286.57 L258.00 286.45 L260.00 286.33 L262.00 286.23 L264.00 286.13 L266.00 286.04 L268.00 285.95 L270.00 285.87 L272.00 285.79 L274.00 285.72 L276.00 285.66 L278.00 285.60 L280.00 285.54 L282.00 285.49 L284.00 285.44 L286.00 285.39 L288.00 285.35 L290.00 285.32 L292.00 285.28 L294.00 285.25 L296.00 285.22 L298.00 285.19 L300.00 285.17 L302.00 285.14 L304.00 285.12 L306.00 285.11 L308.00 285.09 L310.00 285.07 L312.00 285.06 L314.00 285.05 L316.00 285.04 L318.00 285.03 L320.00 285.02 L322.00 285.01 L324.00 285.00 L326.00 284.99 L328.00 284.99 L330.00 284.98 L332.00 284.98 L334.00 284.97 L336.00 284.97 L338.00 284.97 L340.00 284.96 L342.00 284.96 L344.00 284.96 L346.00 284.96 L348.00 284.95 L350.00 284.95 L352.00 284.95 L354.00 284.95 L356.00 284.95 L358.00 284.95 L360.00 284.95 L362.00 284.95 L364.00 284.95 L366.00 284.95 L368.00 284.95 L370.00 284.94 L372.00 284.94 L374.00 284.94 L376.00 284.94 L378.00 284.94 L380.00 284.94 L382.00 284.94 L384.00 284.94 L386.00 284.94 L388.00 284.94 L390.00 284.94 L392.00 284.94 L394.00 284.94 L396.00 284.94 L398.00 284.94 L400.00 284.94 L402.00 284.94 L404.00 284.94 L406.00 284.94 L408.00 284.94 L410.00 284.94 L412.00 284.94 L414.00 284.94 L416.00 284.94 L418.00 284.94 L420.00 284.94 L422.00 284.94 L424.00 284.94 L426.00 284.94 L428.00 284.94 L430.00 284.94 L432.00 284.94 L434.00 284.94 L436.00 284.94 L438.00 284.94 L440.00 284.94 L442.00 284.94 L444.00 284.94 L446.00 284.94 L448.00 284.94 L450.00 284.94 L452.00 284.94 L454.00 284.94 L456.00 284.94" stroke="#0000e6" stroke-width="1.1" stroke-dasharray="5 4.14" stroke-dashoffset="1.4"/>
</g>
<path d="M40.0 310.5 H456.0 M456.0 3.5 V310.5" fill="none" stroke="#000" stroke-width="1" opacity="0.6"/>
<path d="M320.80 69.20 L304.10 69.20" stroke="#000" stroke-width="1" fill="none"/><path d="M292.90 69.20 L301.90 66.60 L304.10 69.20 L301.90 71.80 Z" fill="#000"/>
<path d="M323.20 183.20 L297.00 183.20" stroke="#000" stroke-width="1" fill="none"/><path d="M285.80 183.20 L294.80 180.60 L297.00 183.20 L294.80 185.80 Z" fill="#000"/>
<path d="M325.80 189.50 L311.34 225.89" stroke="#000" stroke-width="1" fill="none"/><path d="M307.20 236.30 L308.11 226.98 L311.34 225.89 L312.94 228.90 Z" fill="#000"/>
<path d="M144.00 266.80 L202.68 282.59" stroke="#000" stroke-width="1" fill="none"/><path d="M213.50 285.50 L204.13 285.67 L202.68 282.59 L205.48 280.65 Z" fill="#000"/>
<g style="filter:grayscale(1)">
<text x="32" y="317.1" font-size="15.3" text-anchor="end" style="font-family:'Liberation Serif',serif;text-rendering:geometricPrecision;" fill="#000" >0</text>
<text x="32" y="278.7" font-size="15.3" text-anchor="end" style="font-family:'Liberation Serif',serif;text-rendering:geometricPrecision;" fill="#000" >1</text>
<text x="32" y="240.3" font-size="15.3" text-anchor="end" style="font-family:'Liberation Serif',serif;text-rendering:geometricPrecision;" fill="#000" >2</text>
<text x="32" y="202.0" font-size="15.3" text-anchor="end" style="font-family:'Liberation Serif',serif;text-rendering:geometricPrecision;" fill="#000" >3</text>
<text x="32" y="163.6" font-size="15.3" text-anchor="end" style="font-family:'Liberation Serif',serif;text-rendering:geometricPrecision;" fill="#000" >4</text>
<text x="32" y="125.2" font-size="15.3" text-anchor="end" style="font-family:'Liberation Serif',serif;text-rendering:geometricPrecision;" fill="#000" >5</text>
<text x="32" y="86.8" font-size="15.3" text-anchor="end" style="font-family:'Liberation Serif',serif;text-rendering:geometricPrecision;" fill="#000" >6</text>
<text x="32" y="48.5" font-size="15.3" text-anchor="end" style="font-family:'Liberation Serif',serif;text-rendering:geometricPrecision;" fill="#000" >7</text>
<text x="32" y="10.1" font-size="15.3" text-anchor="end" style="font-family:'Liberation Serif',serif;text-rendering:geometricPrecision;" fill="#000" >8</text>
<text x="99.4" y="330" font-size="15.3" text-anchor="middle" style="font-family:'Liberation Serif',serif;text-rendering:geometricPrecision;" fill="#000" >-200</text>
<text x="178.7" y="330" font-size="15.3" text-anchor="middle" style="font-family:'Liberation Serif',serif;text-rendering:geometricPrecision;" fill="#000" >0</text>
<text x="257.9" y="330" font-size="15.3" text-anchor="middle" style="font-family:'Liberation Serif',serif;text-rendering:geometricPrecision;" fill="#000" >200</text>
<text x="337.1" y="330" font-size="15.3" text-anchor="middle" style="font-family:'Liberation Serif',serif;text-rendering:geometricPrecision;" fill="#000" >400</text>
<text x="416.4" y="330" font-size="15.3" text-anchor="middle" style="font-family:'Liberation Serif',serif;text-rendering:geometricPrecision;" fill="#000" >600</text>
<text x="248.3" y="347.8" font-size="15.3" text-anchor="middle" style="font-family:'Liberation Serif',serif;text-rendering:geometricPrecision;" fill="#000" >time (fs)</text>
<text x="67" y="39.2" font-size="23" text-anchor="start" style="font-family:'Liberation Serif',serif;text-rendering:geometricPrecision;" fill="#000" >diamond</text>
<text x="325.5" y="73.6" font-size="15.3" text-anchor="start" style="font-family:'Liberation Serif',serif;text-rendering:geometricPrecision;" fill="#000" >ablation</text>
<text x="333" y="189.9" font-size="15.3" text-anchor="start" style="font-family:'Liberation Serif',serif;text-rendering:geometricPrecision;" fill="#000" >structural damage</text>
<text x="78.3" y="270.9" font-size="15.3" text-anchor="start" style="font-family:'Liberation Serif',serif;text-rendering:geometricPrecision;" fill="#000" >no change</text>
<text transform="translate(10.9,163.4) rotate(-90) scale(1,0.92)" font-size="15.2" text-anchor="middle" style="font-family:'Liberation Serif',serif;text-rendering:geometricPrecision;" fill="#000">absorbed energy (eV/atom)</text>
</g>
</svg>
</body></html>
